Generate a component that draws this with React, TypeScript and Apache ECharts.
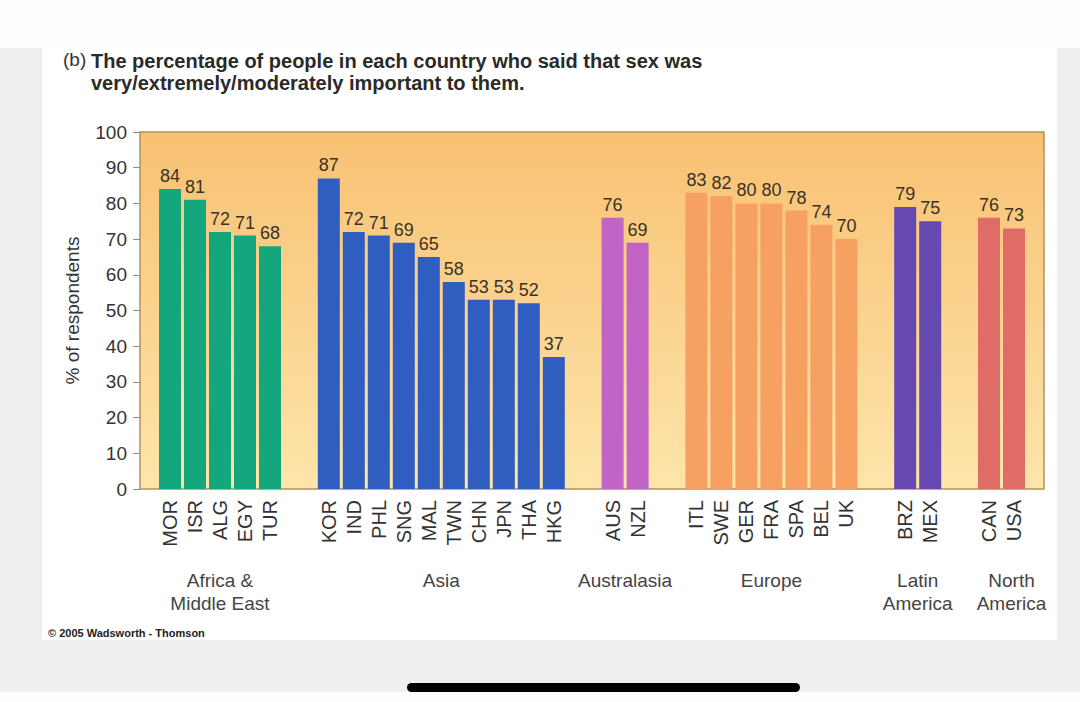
import React, { useEffect, useRef } from "react";
import * as echarts from "echarts";

const GROUPS = ["Africa &\nMiddle East", "Asia", "Australasia", "Europe", "Latin\nAmerica", "North\nAmerica"];
const COUNTRIES = [
  ["MOR", "ISR", "ALG", "EGY", "TUR"],
  ["KOR", "IND", "PHL", "SNG", "MAL", "TWN", "CHN", "JPN", "THA", "HKG"],
  ["AUS", "NZL"],
  ["ITL", "SWE", "GER", "FRA", "SPA", "BEL", "UK"],
  ["BRZ", "MEX"],
  ["CAN", "USA"],
];
const VALUES = [
  [84, 81, 72, 71, 68],
  [87, 72, 71, 69, 65, 58, 53, 53, 52, 37],
  [76, 69],
  [83, 82, 80, 80, 78, 74, 70],
  [79, 75],
  [76, 73],
];
const GROUP_COLORS = ["#14a67c", "#2f5ec0", "#c264c6", "#f6a162", "#6649b0", "#e06c68"];
const TITLE_LINES = ["The percentage of people in each country who said that sex was", "very/extremely/moderately important to them."];
const Y_NAME = "% of respondents";
const CREDIT = "© 2005 Wadsworth - Thomson";

const PLOT = { left: 140, top: 132, width: 904, height: 357 };
const PITCH = 25;
const MARGIN = 17.5;
const NAME_SHIFT = [0, 0, 0, 0, 0, 20];
const FONT = "'Liberation Sans', Arial, Helvetica, sans-serif";

export default function App() {
  const ref = useRef<HTMLDivElement>(null);
  useEffect(() => {
    if (!ref.current) return;
    const chart = echarts.init(ref.current, null, { renderer: "svg" });
    const total = COUNTRIES.reduce((s, g) => s + g.length, 0);
    const gap = (PLOT.width - 2 * MARGIN - total * PITCH) / (COUNTRIES.length - 1);

    const grids: any[] = [
      {
        left: PLOT.left, top: PLOT.top, width: PLOT.width, height: PLOT.height,
        show: true,
        backgroundColor: new echarts.graphic.LinearGradient(0, 0, 0, 1, [
          { offset: 0, color: "#f8c173" },
          { offset: 1, color: "#fde5aa" },
        ]),
        borderColor: "#b0925f", borderWidth: 1.5,
      },
    ];
    const xAxes: any[] = [{ type: "value", gridIndex: 0, show: false, min: 0, max: 1 }];
    const yAxes: any[] = [
      {
        type: "value", gridIndex: 0, min: 0, max: 100, interval: 10,
        axisLine: { show: false },
        axisTick: { show: true, length: 7, lineStyle: { color: "#8a8a8a", width: 1 } },
        axisLabel: { fontSize: 19, color: "#333", margin: 13, fontFamily: FONT },
        splitLine: { show: false },
        name: Y_NAME, nameLocation: "middle", nameGap: 58,
        nameTextStyle: { fontSize: 19, color: "#333", fontFamily: FONT },
      },
    ];
    const series: any[] = [];
    let cum = 0;
    COUNTRIES.forEach((codes, g) => {
      const left = PLOT.left + MARGIN + cum * PITCH + g * gap;
      cum += codes.length;
      const gi = g + 1;
      grids.push({ left, top: PLOT.top, width: codes.length * PITCH, height: PLOT.height, show: false });
      xAxes.push({
        type: "category", gridIndex: gi, data: codes,
        axisLine: { show: false }, axisTick: { show: false },
        axisLabel: { rotate: 90, fontSize: 20, color: "#333", margin: 11, interval: 0, fontFamily: FONT },
        name: GROUPS[g], nameLocation: "middle", nameGap: 80,
        nameTextStyle: {
          fontSize: 19, color: "#444", lineHeight: 23, verticalAlign: "top", fontFamily: FONT,
          padding: [0, 0, 0, NAME_SHIFT[g]],
        },
      });
      yAxes.push({ type: "value", gridIndex: gi, min: 0, max: 100, show: false });
      series.push({
        type: "bar", xAxisIndex: gi, yAxisIndex: gi, data: VALUES[g], barWidth: 22,
        itemStyle: { color: GROUP_COLORS[g] },
        label: { show: true, position: "top", distance: 4, fontSize: 18, color: "#3a3224", fontFamily: FONT },
      });
    });

    chart.setOption({
      animation: false,
      textStyle: { fontFamily: FONT },
      title: [
        { text: "(b)", left: 63, top: 50, padding: 0, textStyle: { fontSize: 19, fontWeight: "normal", color: "#333", fontFamily: FONT } },
        { text: TITLE_LINES.join("\n"), left: 91, top: 50, padding: 0, textStyle: { fontSize: 20, fontWeight: "bold", color: "#2a2a2a", lineHeight: 22, fontFamily: FONT } },
        { text: CREDIT, left: 48, top: 627, padding: 0, textStyle: { fontSize: 11, fontWeight: "bold", color: "#222", fontFamily: FONT } },
      ],
      grid: grids,
      xAxis: xAxes,
      yAxis: yAxes,
      series,
    });
    return () => chart.dispose();
  }, []);

  return (
    <div style={{ position: "fixed", left: 0, top: 0, width: 1080, height: 702, background: "#efefef", overflow: "hidden" }}>
      <div style={{ position: "absolute", left: 0, top: 0, width: 1080, height: 48, background: "#fdfdfd" }} />
      <div style={{ position: "absolute", left: 0, top: 692, width: 1080, height: 10, background: "#fdfdfd" }} />
      <div style={{ position: "absolute", left: 42, top: 48, width: 1015, height: 592, background: "#ffffff" }} />
      <div style={{ position: "absolute", left: 407, top: 683, width: 393, height: 9, borderRadius: 5, background: "#000" }} />
      <div ref={ref} style={{ position: "absolute", left: 0, top: 0, width: 1080, height: 702 }} />
    </div>
  );
}
